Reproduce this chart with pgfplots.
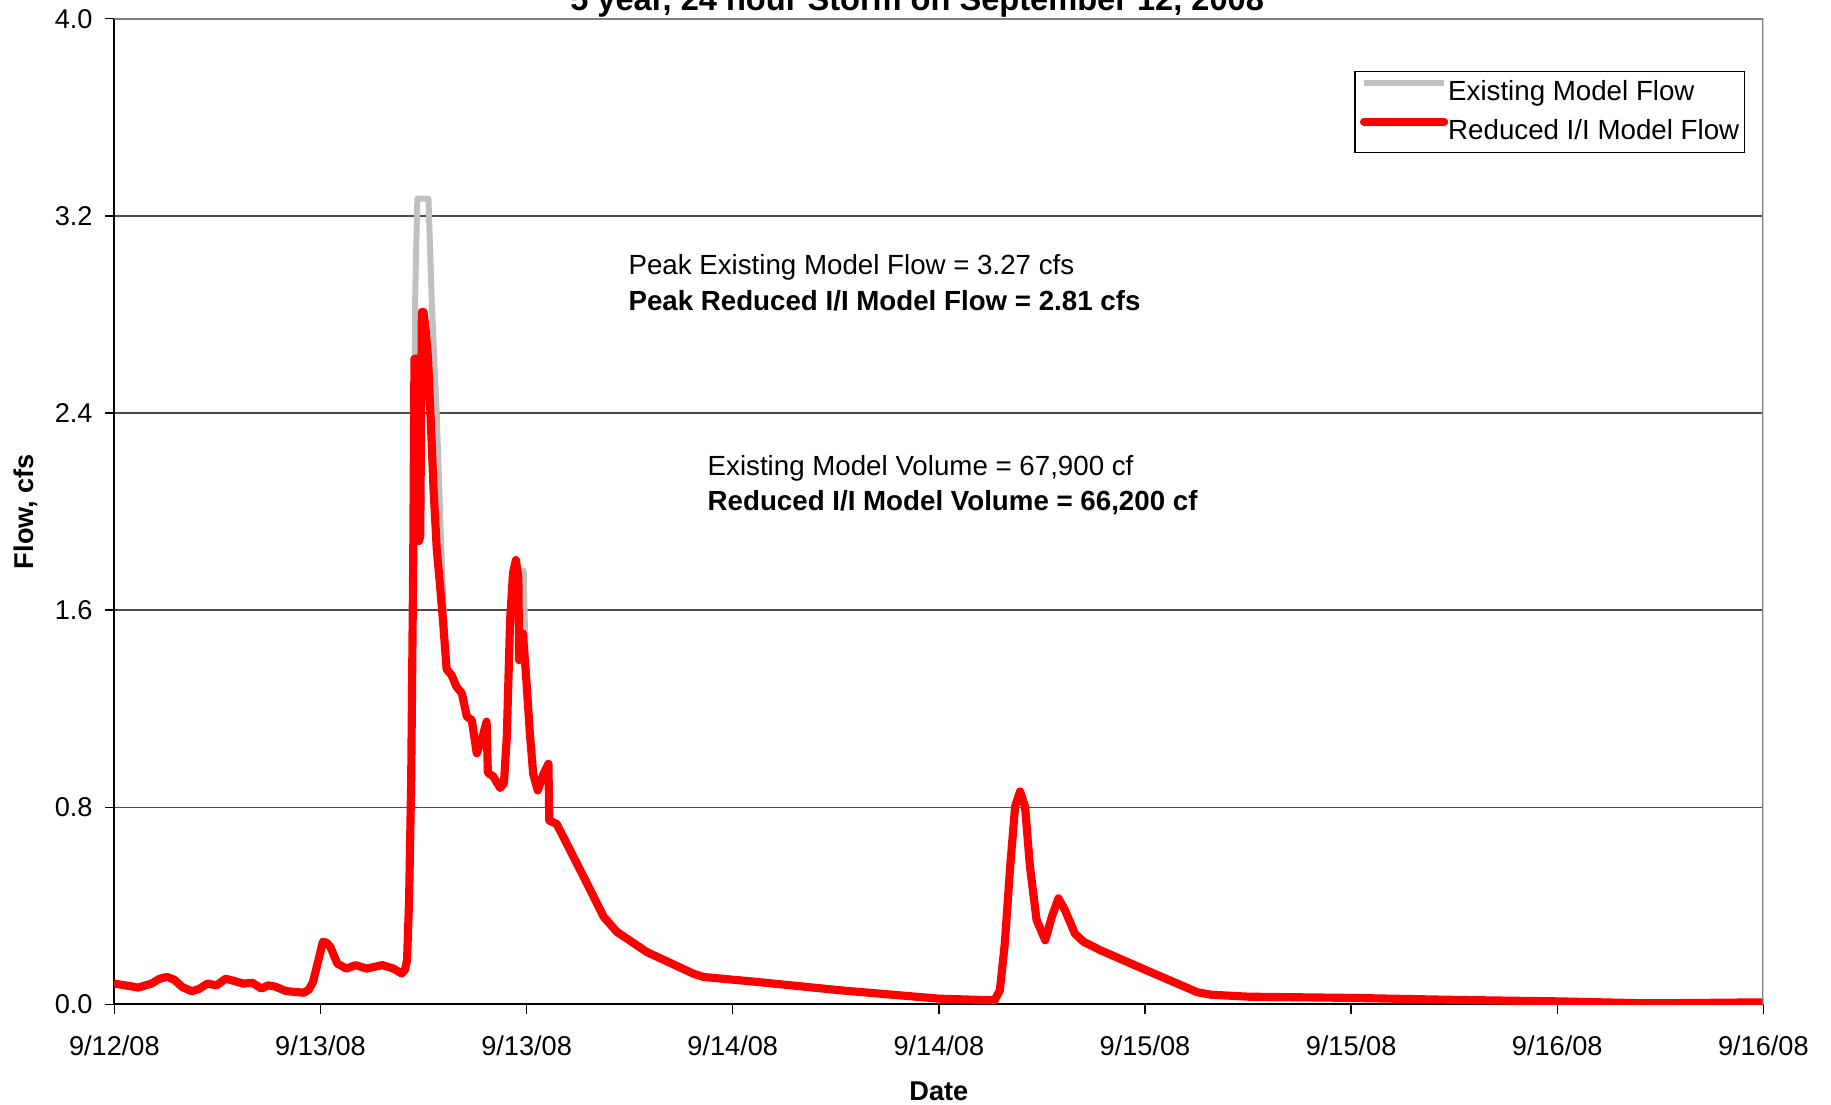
\documentclass[border=0pt]{standalone}
\usepackage{fontspec}
\setmainfont{Liberation Sans}
\usepackage{pgfplots}
\usepackage{pgfplotstable}
\pgfplotsset{compat=1.18}
\definecolor{exgray}{RGB}{192,192,192}
\definecolor{frame}{RGB}{128,128,128}

\pgfplotstableread{
day flow
0.000 0.084
0.030 0.076
0.058 0.068
0.090 0.084
0.110 0.104
0.128 0.111
0.145 0.100
0.165 0.070
0.188 0.053
0.205 0.062
0.226 0.084
0.248 0.077
0.270 0.104
0.290 0.095
0.313 0.084
0.335 0.087
0.357 0.064
0.373 0.077
0.390 0.072
0.416 0.054
0.440 0.050
0.460 0.047
0.472 0.060
0.482 0.091
0.495 0.180
0.506 0.254
0.515 0.250
0.524 0.233
0.541 0.165
0.563 0.145
0.585 0.159
0.612 0.145
0.650 0.159
0.677 0.145
0.697 0.125
0.705 0.140
0.710 0.179
0.715 0.423
0.720 0.900
0.725 1.800
0.728 2.620
0.737 2.620
0.739 1.880
0.742 1.900
0.746 2.810
0.750 2.810
0.755 2.740
0.761 2.620
0.768 2.350
0.774 2.100
0.782 1.850
0.790 1.700
0.798 1.540
0.806 1.360
0.818 1.336
0.830 1.289
0.843 1.262
0.855 1.168
0.867 1.154
0.879 1.019
0.891 1.073
0.903 1.147
0.906 0.940
0.919 0.925
0.936 0.878
0.945 0.897
0.952 1.086
0.960 1.559
0.967 1.750
0.974 1.803
0.980 1.735
0.982 1.397
0.991 1.505
1.000 1.302
1.008 1.098
1.016 0.935
1.027 0.868
1.041 0.935
1.053 0.976
1.055 0.746
1.073 0.732
1.130 0.545
1.187 0.355
1.219 0.294
1.292 0.212
1.405 0.124
1.429 0.111
1.558 0.091
1.760 0.057
2.000 0.023
2.135 0.016
2.148 0.057
2.160 0.247
2.173 0.559
2.185 0.803
2.197 0.864
2.209 0.803
2.221 0.559
2.237 0.342
2.258 0.260
2.274 0.355
2.290 0.430
2.306 0.382
2.330 0.287
2.351 0.254
2.391 0.220
2.512 0.132
2.627 0.049
2.660 0.039
2.750 0.031
3.000 0.026
3.250 0.018
3.500 0.012
3.690 0.005
3.800 0.005
4.000 0.008
}\reduced

\pgfplotstableread{
day flow
0.000 0.084
0.030 0.076
0.058 0.068
0.090 0.084
0.110 0.104
0.128 0.111
0.145 0.100
0.165 0.070
0.188 0.053
0.205 0.062
0.226 0.084
0.248 0.077
0.270 0.104
0.290 0.095
0.313 0.084
0.335 0.087
0.357 0.064
0.373 0.077
0.390 0.072
0.416 0.054
0.440 0.050
0.460 0.047
0.472 0.060
0.482 0.091
0.495 0.180
0.506 0.254
0.515 0.250
0.524 0.233
0.541 0.165
0.563 0.145
0.585 0.159
0.612 0.145
0.650 0.159
0.677 0.145
0.697 0.125
0.705 0.140
0.710 0.179
0.715 0.423
0.720 0.900
0.725 1.500
0.730 2.900
0.735 3.270
0.762 3.270
0.770 2.850
0.782 2.400
0.792 1.900
0.800 1.560
0.806 1.360
0.818 1.336
0.830 1.289
0.843 1.262
0.855 1.168
0.867 1.154
0.879 1.019
0.891 1.073
0.903 1.147
0.906 0.940
0.919 0.925
0.936 0.878
0.945 0.897
0.952 1.086
0.960 1.559
0.967 1.750
0.974 1.803
0.980 1.760
0.993 1.760
0.997 1.450
1.002 1.290
1.008 1.098
1.016 0.935
1.027 0.868
1.041 0.935
1.053 0.976
1.055 0.746
1.073 0.732
1.130 0.545
1.187 0.355
1.219 0.294
1.292 0.212
1.405 0.124
1.429 0.111
1.558 0.091
1.760 0.057
2.000 0.023
2.135 0.016
2.148 0.057
2.160 0.247
2.173 0.559
2.185 0.803
2.197 0.864
2.209 0.803
2.221 0.559
2.237 0.342
2.258 0.260
2.274 0.355
2.290 0.430
2.306 0.382
2.330 0.287
2.351 0.254
2.391 0.220
2.512 0.132
2.627 0.049
2.660 0.039
2.750 0.031
3.000 0.026
3.250 0.018
3.500 0.012
3.690 0.005
3.800 0.005
4.000 0.008
}\existing

\begin{document}
\fontsize{10}{12}\selectfont
\begin{tikzpicture}
\begin{axis}[
  name=ax,
  scale only axis,
  width=607.2pt, height=362.9pt,
  xmin=0, xmax=4, ymin=0, ymax=4,
  xtick={0,0.5,1,1.5,2,2.5,3,3.5,4},
  xticklabels={9/12/08,9/13/08,9/13/08,9/14/08,9/14/08,9/15/08,9/15/08,9/16/08,9/16/08},
  ytick={0,0.8,1.6,2.4,3.2,4.0},
  /pgf/number format/fixed,
  /pgf/number format/fixed zerofill,
  /pgf/number format/precision=1,
  /pgf/number format/assume math mode=true,
  ticklabel style={font=\fontsize{10}{12}\selectfont},
  xticklabel style={yshift=-4.6pt},
  yticklabel style={xshift=-1.1pt},
  tick align=outside,
  major tick length=3.4pt,
  tick style={black, line width=0.5pt},
  axis x line*=bottom,
  axis y line*=left,
  x axis line style={-, black, line width=0.8pt},
  y axis line style={-, black, line width=0.8pt},
  ymajorgrids=true,
  grid style={black!70, line width=0.5pt},
  legend style={
    at={(1,1)}, anchor=north east, xshift=-6.7pt, yshift=-19.1pt,
    draw=black, line width=0.6pt,
    font=\fontsize{10.2}{12}\selectfont,
    inner xsep=1.9pt, inner ysep=2.8pt,
    row sep=4.2pt,
    nodes={inner sep=0pt, text height=8pt, text depth=2pt},
    /tikz/every odd column/.append style={column sep=0pt},
  },
  legend cell align=left,
  legend image code/.code={\path (0pt,3.6pt) -- (29.5pt,3.6pt);\draw[#1] (1.5pt,3.6pt) -- (28.5pt,3.6pt);},
]
\addplot[exgray, line width=2.2pt, line join=round] table[x=day, y=flow] {\existing};
\addlegendentry{Existing Model Flow}
\addplot[red, line width=3.0pt, line join=round, line cap=round] table[x=day, y=flow] {\reduced};
\addlegendentry{Reduced I/I Model Flow\hspace{4.3pt}}

\node[anchor=base west, inner sep=0pt, font=\fontsize{10.2}{12}\selectfont] at (axis cs:1.246,2.96) {Peak Existing Model Flow = 3.27 cfs};
\node[anchor=base west, inner sep=0pt, font=\fontsize{10.2}{12}\selectfont\bfseries] at (axis cs:1.246,2.815) {Peak Reduced I/I Model Flow = 2.81 cfs};
\node[anchor=base west, inner sep=0pt, font=\fontsize{10.2}{12}\selectfont] at (axis cs:1.438,2.148) {Existing Model Volume = 67,900 cf};
\node[anchor=base west, inner sep=0pt, font=\fontsize{10.2}{12}\selectfont\bfseries] at (axis cs:1.438,2.003) {Reduced I/I Model Volume = 66,200 cf};

\draw[frame, line width=1pt] (rel axis cs:0,1) -- (rel axis cs:1,1) -- (rel axis cs:1,0);
\end{axis}
\node[rotate=90, font=\bfseries\fontsize{10}{12}\selectfont] at ([xshift=-32.7pt]ax.west) {Flow, cfs};
\node[anchor=base, font=\bfseries\fontsize{10}{12}\selectfont] at ([yshift=-35.3pt]ax.south) {Date};
\node[anchor=base, font=\bfseries\fontsize{12}{14}\selectfont] at ([xshift=-8pt,yshift=3.2pt]ax.north) {5 year, 24 hour Storm on September 12, 2008};
\pgfresetboundingbox
\path[use as bounding box] ([xshift=-42.1pt,yshift=-37pt]ax.south west) rectangle ([xshift=24.9pt,yshift=6.9pt]ax.north east);
\end{tikzpicture}
\end{document}
